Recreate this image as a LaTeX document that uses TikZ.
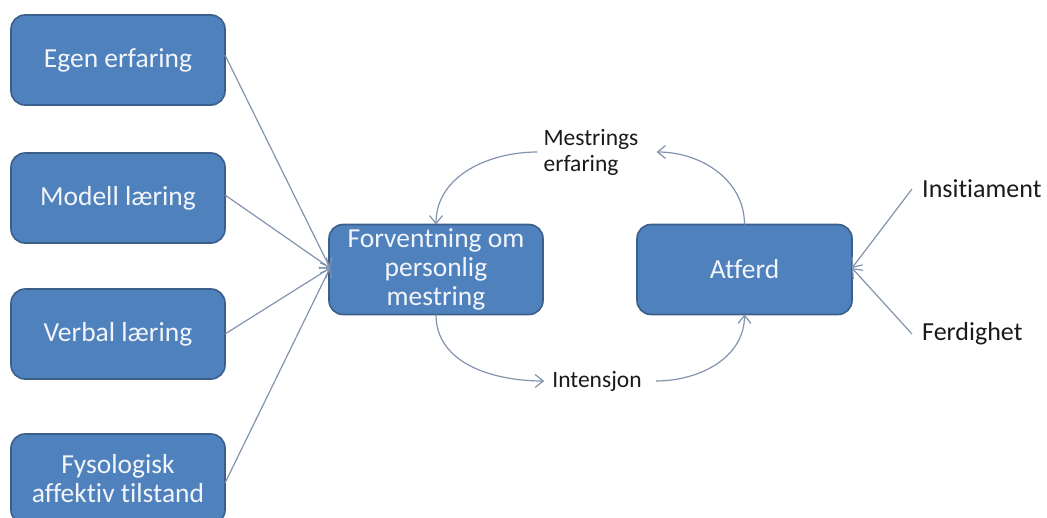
\documentclass[tikz,border=0pt]{standalone}
\usepackage{fontspec}
\setmainfont{Carlito}[Ligatures=NoCommon]
\usetikzlibrary{arrows.meta}
\definecolor{boxfill}{HTML}{4F81BD}
\definecolor{boxdraw}{HTML}{3A5F8B}
\definecolor{linec}{HTML}{8293AE}
\definecolor{textc}{HTML}{1A1A1A}
\definecolor{boxtext}{HTML}{F2F5FA}
\tikzset{
  bluebox/.style={draw=boxdraw, line width=1.6pt, fill=boxfill, rounded corners=14pt,
    minimum width=214pt, minimum height=90pt, inner sep=0pt, outer sep=0pt,
    text=boxtext, align=center, font=\fontsize{27.5}{29}\selectfont},
  lbl/.style={text=textc, align=left, inner sep=0pt, font=\fontsize{23.5}{26}\selectfont},
  rlbl/.style={lbl, font=\fontsize{26}{30}\selectfont},
  conn/.style={draw=linec, line width=1.2pt, -{Straight Barb[length=8pt,width=13pt]}}
}
\begin{document}
\begin{tikzpicture}[x=1pt,y=-1pt]
\useasboundingbox (0,0) rectangle (1047,517);
\clip (0,0) rectangle (1047,517);
\node[bluebox] (egen) at (118,60) {Egen erfaring};
\node[bluebox] (modell) at (118,198) {Modell læring};
\node[bluebox] (verbal) at (118,334) {Verbal læring};
\node[bluebox] (fys) at (118,479) {Fysologisk\\affektiv tilstand};
\node[bluebox] (forv) at (436,269.5) {Forventning om\\personlig\\mestring};
\node[bluebox, minimum width=215pt] (atferd) at (744.5,269.5) {Atferd};
\node[lbl] (mestr) at (591,152) {Mestrings\\erfaring};
\node[lbl] (intens) at (597,381) {Intensjon};
\node[rlbl, anchor=west] (insit) at (922,189) {Insitiament};
\node[rlbl, anchor=west] (ferd) at (922,334) {Ferdighet};
\coordinate (fin) at (330,268);
\coordinate (ain) at (852,268);
\draw[conn] ([yshift=5pt]egen.east) -- (fin);
\draw[conn] ([yshift=3pt]modell.east) -- (fin);
\draw[conn] (verbal.east) -- (fin);
\draw[conn] ([yshift=-4pt]fys.east) -- (fin);
\draw[conn] ([xshift=-6pt]mestr.west) to[out=180,in=90] (forv.north);
\draw[conn] (atferd.north) to[out=90,in=0] ([xshift=18pt]mestr.east);
\draw[conn] (forv.south) to[out=-90,in=180] ([xshift=-8pt]intens.west);
\draw[conn] ([xshift=14pt]intens.east) to[out=0,in=-90] (atferd.south);
\draw[conn] ([xshift=-10pt]insit.west) -- (ain);
\draw[conn] ([xshift=-10pt]ferd.west) -- (ain);
\end{tikzpicture}
\end{document}
